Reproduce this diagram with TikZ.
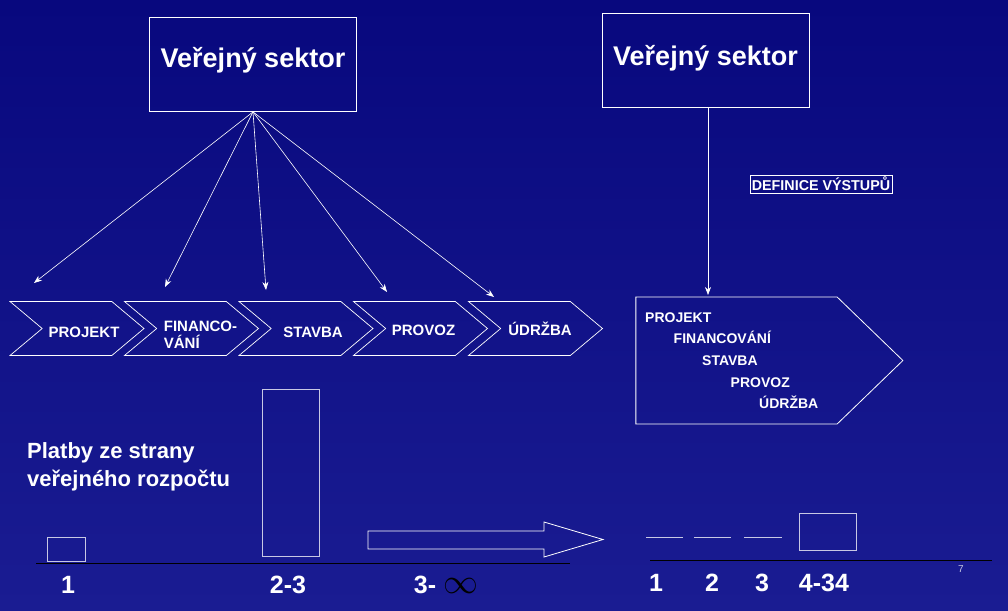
\documentclass[tikz,border=0pt]{standalone}
\usepackage{fontspec}
\setmainfont{Liberation Sans}
\usetikzlibrary{arrows.meta, shapes.symbols}
\definecolor{bgtop}{RGB}{8,8,126}
\definecolor{bgbottom}{RGB}{26,28,146}
\definecolor{paleedge}{RGB}{200,200,228}

\begin{document}
\begin{tikzpicture}
        [x=1pt, y=-1pt,
        sektor/.style={draw=white, line width=0.8pt, minimum width=207pt, minimum height=94pt,
          inner sep=0pt, text=white, font=\bfseries\fontsize{27}{32}\selectfont,
          text height=20pt, text depth=14pt},
        chev/.style={signal, signal from=west, signal to=east, signal pointer angle=80,
          draw=white, line width=0.7pt, minimum width=134pt, minimum height=54pt, inner sep=0pt},
        faze/.style={inner sep=0pt, text=white, align=left, font=\bfseries\fontsize{15}{17}\selectfont},
        vystup/.style={signal, signal to=east, signal from=nowhere, signal pointer angle=88,
          draw=white, line width=0.8pt, minimum width=267pt, minimum height=127pt, inner sep=0pt},
        krok/.style={anchor=base west, inner sep=0pt, text=white, font=\bfseries\fontsize{14}{16}\selectfont},
        tag/.style={draw=white, line width=0.6pt, inner xsep=2pt, inner ysep=2pt, text=white,
          font=\bfseries\fontsize{14.3}{16}\selectfont},
        platba/.style={draw=paleedge, line width=0.8pt, inner sep=0pt},
        num/.style={inner sep=0pt, text=white, font=\bfseries\fontsize{25}{30}\selectfont},
        axis/.style={black, line width=0.9pt},
        usek/.style={paleedge, line width=0.8pt},
        arr/.style={->,>={Stealth[length=8pt, width=6pt]}, line width=0.6pt, white}]
        \fill[top color=bgtop, bottom color=bgbottom] (0,0) rectangle (1008,610);
        \useasboundingbox (0,0) rectangle (1008,610);

        % left: the public sector buys every phase separately
        \node (vs1) at (253, 64.5) [sektor] {Veřejný sektor};
        \node (p1) at (77, 328.5) [chev] {};
        \node (p2) at (191.5, 328.5) [chev] {};
        \node (p3) at (306, 328.5) [chev] {};
        \node (p4) at (420.5, 328.5) [chev] {};
        \node (p5) at (535.5, 328.5) [chev] {};
        \node (f1) at ([xshift=7pt, yshift=-4pt]p1.center) [faze] {PROJEKT};
        \node (f2) at ([xshift=9pt, yshift=-6pt]p2.center) [faze] {FINANCO-\\VÁNÍ};
        \node (f3) at ([xshift=7pt, yshift=-3.5pt]p3.center) [faze] {STAVBA};
        \node (f4) at ([xshift=3pt, yshift=-1.5pt]p4.center) [faze] {PROVOZ};
        \node (f5) at ([xshift=4.5pt, yshift=-0.5pt]p5.center) [faze] {ÚDRŽBA};
        \coordinate (t1) at (34, 283);
        \coordinate (t2) at (165, 287);
        \coordinate (t3) at (266, 290);
        \coordinate (t4) at (387, 292);
        \coordinate (t5) at (494, 297);
        \foreach \t in {t1, t2, t3, t4, t5}
          \path (vs1.south) edge[arr] (\t);

        \node (platby) at (27, 442) [anchor=north west, inner sep=0pt, text=white, align=left,
          font=\bfseries\fontsize{22}{28}\selectfont] {Platby ze strany\\veřejného rozpočtu};
        \node (b1) at (66, 549) [platba, minimum width=38pt, minimum height=24pt] {};
        \node (b2) at (290.5, 472.5) [platba, minimum width=57pt, minimum height=167pt] {};
        \draw[white, line width=0.8pt] (368, 531) -- (544, 531) -- (544, 522) -- (603, 539.5)
          -- (544, 557) -- (544, 549) -- (368, 549) -- cycle;
        \draw[axis] (36, 563) -- (570, 563);
        \node (n1) at (68, 585) [num] {1};
        \node (n2) at (288, 585) [num] {2-3};
        \node (n3) at (425, 585) [num] {3-};
        \node (inf) at (461, 586) [inner sep=0pt, text=black,
          font=\fontsize{25}{25}\selectfont] {\scalebox{1.4}{$\infty$}};

        % right: one contract for the whole chain
        \node (vs2) at (705.5, 60) [sektor, text depth=10pt] {Veřejný sektor};
        \node (def) at (821, 184) [tag] {DEFINICE VÝSTUPŮ};
        \node (cel) at (736.5, 360.5) [vystup] {};
        \coordinate (vtip) at (708, 295);
        \draw[arr] (vs2.south -| vtip) -- (vtip);
        \foreach \t [count=\i from 0] in {PROJEKT, FINANCOVÁNÍ, STAVBA, PROVOZ, ÚDRŽBA}
          \node (krok\i) at (645+28.5*\i, 322+21.7*\i) [krok] {\t};

        \foreach \a/\b in {646/683, 694/731, 744/782}
          \draw[usek] (\a, 537) -- (\b, 537);
        \node (c4) at (827.5, 531.5) [platba, minimum width=57pt, minimum height=37pt] {};
        \draw[axis] (650, 560) -- (992, 560);
        \node (m1) at (656, 583) [num] {1};
        \node (m2) at (712, 583) [num] {2};
        \node (m3) at (762, 583) [num] {3};
        \node (m4) at (824, 583) [num] {4-34};
        \node (strana) at (961, 569) [inner sep=0pt, text=paleedge, font=\fontsize{10}{12}\selectfont] {7};
     \end{tikzpicture}
\end{document}
